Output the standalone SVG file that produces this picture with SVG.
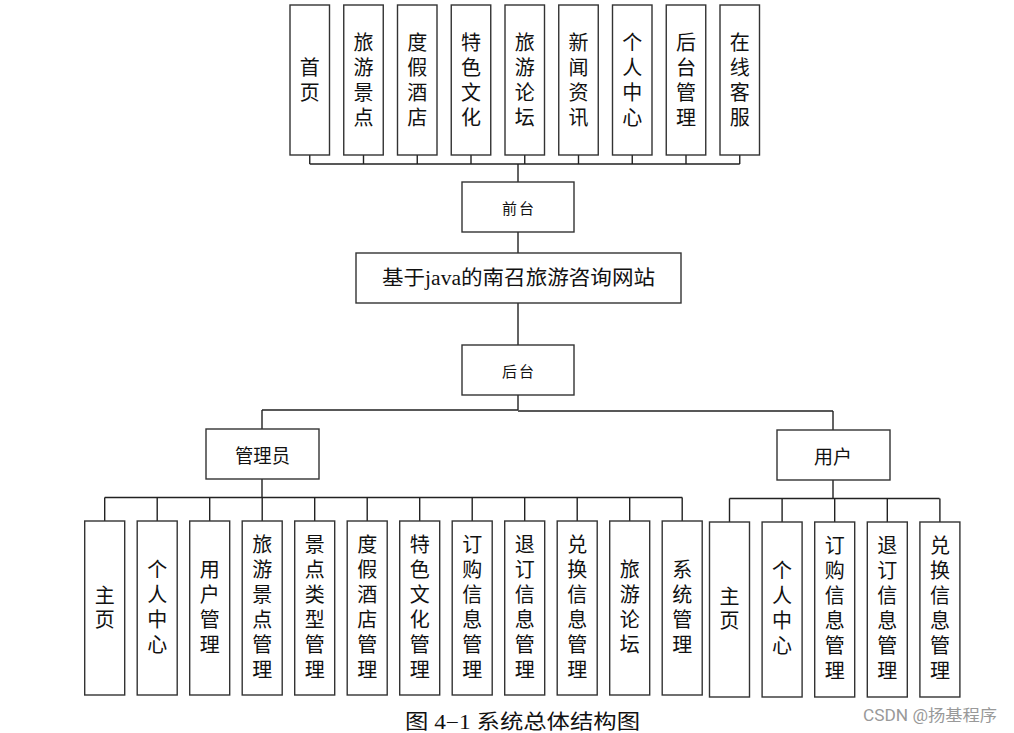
<svg xmlns="http://www.w3.org/2000/svg" width="1014" height="733" viewBox="0 0 1014 733">
<style>
.box{fill:#fff;stroke:#333;stroke-width:1.4}
.ln{fill:none;stroke:#222;stroke-width:1.4}
.t{font-family:"Liberation Serif","Noto Sans CJK SC",serif;font-size:20px;fill:#111;text-anchor:middle;dominant-baseline:central}
.s{font-family:"Noto Sans CJK SC",sans-serif;font-size:15px;fill:#111;text-anchor:middle;dominant-baseline:central;letter-spacing:2px}
.m{font-family:"Noto Sans CJK SC",sans-serif;font-size:19px;fill:#111;text-anchor:middle;dominant-baseline:central}
</style>
<rect width="1014" height="733" fill="#fff"/>
<g id="connectors">
<path class="ln" d="M309.75 154.5V164M363.5 154.5V164M417.25 154.5V164M471 154.5V164M524.75 154.5V164M578.5 154.5V164M632.25 154.5V164M686 154.5V164M739.75 154.5V164M309.75 164H739.75M518 164V182"/>
<path class="ln" d="M518 232V253M518 303V345M518 395V410M262 410H518M518 411H833M262 410V429M833 411V430"/>
<path class="ln" d="M262 479V497.5M104.7 497.5H682.3M104.7 497.5V521M157.2 497.5V521M209.7 497.5V521M262.2 497.5V521M314.7 497.5V521M367.2 497.5V521M419.7 497.5V521M472.2 497.5V521M524.7 497.5V521M577.2 497.5V521M629.7 497.5V521M682.2 497.5V521"/>
<path class="ln" d="M833 480V498.5M729.5 498.5H939.5M729.5 498.5V522M782.1 498.5V522M834.7 498.5V522M887.3 498.5V522M939.9 498.5V522"/>
</g>
<g id="top-1"><rect class="box" x="290" y="5" width="39.5" height="150"/><text class="t"><tspan x="309.75" y="67.5">首</tspan><tspan x="309.75" y="92.5">页</tspan></text></g>
<g id="top-2"><rect class="box" x="343.75" y="5" width="39.5" height="150"/><text class="t"><tspan x="363.5" y="42.5">旅</tspan><tspan x="363.5" y="67.5">游</tspan><tspan x="363.5" y="92.5">景</tspan><tspan x="363.5" y="117.5">点</tspan></text></g>
<g id="top-3"><rect class="box" x="397.5" y="5" width="39.5" height="150"/><text class="t"><tspan x="417.25" y="42.5">度</tspan><tspan x="417.25" y="67.5">假</tspan><tspan x="417.25" y="92.5">酒</tspan><tspan x="417.25" y="117.5">店</tspan></text></g>
<g id="top-4"><rect class="box" x="451.25" y="5" width="39.5" height="150"/><text class="t"><tspan x="471" y="42.5">特</tspan><tspan x="471" y="67.5">色</tspan><tspan x="471" y="92.5">文</tspan><tspan x="471" y="117.5">化</tspan></text></g>
<g id="top-5"><rect class="box" x="505" y="5" width="39.5" height="150"/><text class="t"><tspan x="524.75" y="42.5">旅</tspan><tspan x="524.75" y="67.5">游</tspan><tspan x="524.75" y="92.5">论</tspan><tspan x="524.75" y="117.5">坛</tspan></text></g>
<g id="top-6"><rect class="box" x="558.75" y="5" width="39.5" height="150"/><text class="t"><tspan x="578.5" y="42.5">新</tspan><tspan x="578.5" y="67.5">闻</tspan><tspan x="578.5" y="92.5">资</tspan><tspan x="578.5" y="117.5">讯</tspan></text></g>
<g id="top-7"><rect class="box" x="612.5" y="5" width="39.5" height="150"/><text class="t"><tspan x="632.25" y="42.5">个</tspan><tspan x="632.25" y="67.5">人</tspan><tspan x="632.25" y="92.5">中</tspan><tspan x="632.25" y="117.5">心</tspan></text></g>
<g id="top-8"><rect class="box" x="666.25" y="5" width="39.5" height="150"/><text class="t"><tspan x="686" y="42.5">后</tspan><tspan x="686" y="67.5">台</tspan><tspan x="686" y="92.5">管</tspan><tspan x="686" y="117.5">理</tspan></text></g>
<g id="top-9"><rect class="box" x="720" y="5" width="39.5" height="150"/><text class="t"><tspan x="739.75" y="42.5">在</tspan><tspan x="739.75" y="67.5">线</tspan><tspan x="739.75" y="92.5">客</tspan><tspan x="739.75" y="117.5">服</tspan></text></g>
<g id="frontend"><rect class="box" x="462" y="182" width="112" height="50"/><text class="s" x="519" y="207">前台</text></g>
<g id="system"><rect class="box" x="356" y="253" width="325" height="50"/><text class="t" x="518.5" y="278" textLength="273" lengthAdjust="spacingAndGlyphs">基于java的南召旅游咨询网站</text></g>
<g id="backend"><rect class="box" x="462" y="345" width="112" height="50"/><text class="s" x="519" y="370">后台</text></g>
<g id="admin"><rect class="box" x="206" y="429" width="113" height="50"/><text class="m" x="262.5" y="454" textLength="55" lengthAdjust="spacingAndGlyphs">管理员</text></g>
<g id="user"><rect class="box" x="777" y="430" width="113" height="50"/><text class="m" x="833" y="455">用户</text></g>
<g id="a1"><rect class="box" x="84.7" y="521" width="40" height="174"/><text class="t"><tspan x="104.7" y="596">主</tspan><tspan x="104.7" y="620">页</tspan></text></g>
<g id="a2"><rect class="box" x="137.2" y="521" width="40" height="174"/><text class="t"><tspan x="157.2" y="570">个</tspan><tspan x="157.2" y="595">人</tspan><tspan x="157.2" y="620">中</tspan><tspan x="157.2" y="645">心</tspan></text></g>
<g id="a3"><rect class="box" x="189.7" y="521" width="40" height="174"/><text class="t"><tspan x="209.7" y="570">用</tspan><tspan x="209.7" y="595">户</tspan><tspan x="209.7" y="620">管</tspan><tspan x="209.7" y="645">理</tspan></text></g>
<g id="a4"><rect class="box" x="242.2" y="521" width="40" height="174"/><text class="t"><tspan x="262.2" y="545">旅</tspan><tspan x="262.2" y="570">游</tspan><tspan x="262.2" y="595">景</tspan><tspan x="262.2" y="620">点</tspan><tspan x="262.2" y="645">管</tspan><tspan x="262.2" y="670">理</tspan></text></g>
<g id="a5"><rect class="box" x="294.7" y="521" width="40" height="174"/><text class="t"><tspan x="314.7" y="545">景</tspan><tspan x="314.7" y="570">点</tspan><tspan x="314.7" y="595">类</tspan><tspan x="314.7" y="620">型</tspan><tspan x="314.7" y="645">管</tspan><tspan x="314.7" y="670">理</tspan></text></g>
<g id="a6"><rect class="box" x="347.2" y="521" width="40" height="174"/><text class="t"><tspan x="367.2" y="545">度</tspan><tspan x="367.2" y="570">假</tspan><tspan x="367.2" y="595">酒</tspan><tspan x="367.2" y="620">店</tspan><tspan x="367.2" y="645">管</tspan><tspan x="367.2" y="670">理</tspan></text></g>
<g id="a7"><rect class="box" x="399.7" y="521" width="40" height="174"/><text class="t"><tspan x="419.7" y="545">特</tspan><tspan x="419.7" y="570">色</tspan><tspan x="419.7" y="595">文</tspan><tspan x="419.7" y="620">化</tspan><tspan x="419.7" y="645">管</tspan><tspan x="419.7" y="670">理</tspan></text></g>
<g id="a8"><rect class="box" x="452.2" y="521" width="40" height="174"/><text class="t"><tspan x="472.2" y="545">订</tspan><tspan x="472.2" y="570">购</tspan><tspan x="472.2" y="595">信</tspan><tspan x="472.2" y="620">息</tspan><tspan x="472.2" y="645">管</tspan><tspan x="472.2" y="670">理</tspan></text></g>
<g id="a9"><rect class="box" x="504.7" y="521" width="40" height="174"/><text class="t"><tspan x="524.7" y="545">退</tspan><tspan x="524.7" y="570">订</tspan><tspan x="524.7" y="595">信</tspan><tspan x="524.7" y="620">息</tspan><tspan x="524.7" y="645">管</tspan><tspan x="524.7" y="670">理</tspan></text></g>
<g id="a10"><rect class="box" x="557.2" y="521" width="40" height="174"/><text class="t"><tspan x="577.2" y="545">兑</tspan><tspan x="577.2" y="570">换</tspan><tspan x="577.2" y="595">信</tspan><tspan x="577.2" y="620">息</tspan><tspan x="577.2" y="645">管</tspan><tspan x="577.2" y="670">理</tspan></text></g>
<g id="a11"><rect class="box" x="609.7" y="521" width="40" height="174"/><text class="t"><tspan x="629.7" y="570">旅</tspan><tspan x="629.7" y="595">游</tspan><tspan x="629.7" y="620">论</tspan><tspan x="629.7" y="645">坛</tspan></text></g>
<g id="a12"><rect class="box" x="662.2" y="521" width="40" height="174"/><text class="t"><tspan x="682.2" y="570">系</tspan><tspan x="682.2" y="595">统</tspan><tspan x="682.2" y="620">管</tspan><tspan x="682.2" y="645">理</tspan></text></g>
<g id="u1"><rect class="box" x="709.5" y="522" width="40" height="175"/><text class="t"><tspan x="729.5" y="597">主</tspan><tspan x="729.5" y="621">页</tspan></text></g>
<g id="u2"><rect class="box" x="762.1" y="522" width="40" height="175"/><text class="t"><tspan x="782.1" y="571">个</tspan><tspan x="782.1" y="596">人</tspan><tspan x="782.1" y="621">中</tspan><tspan x="782.1" y="646">心</tspan></text></g>
<g id="u3"><rect class="box" x="814.7" y="522" width="40" height="175"/><text class="t"><tspan x="834.7" y="546">订</tspan><tspan x="834.7" y="571">购</tspan><tspan x="834.7" y="596">信</tspan><tspan x="834.7" y="621">息</tspan><tspan x="834.7" y="646">管</tspan><tspan x="834.7" y="671">理</tspan></text></g>
<g id="u4"><rect class="box" x="867.3" y="522" width="40" height="175"/><text class="t"><tspan x="887.3" y="546">退</tspan><tspan x="887.3" y="571">订</tspan><tspan x="887.3" y="596">信</tspan><tspan x="887.3" y="621">息</tspan><tspan x="887.3" y="646">管</tspan><tspan x="887.3" y="671">理</tspan></text></g>
<g id="u5"><rect class="box" x="919.9" y="522" width="40" height="175"/><text class="t"><tspan x="939.9" y="546">兑</tspan><tspan x="939.9" y="571">换</tspan><tspan x="939.9" y="596">信</tspan><tspan x="939.9" y="621">息</tspan><tspan x="939.9" y="646">管</tspan><tspan x="939.9" y="671">理</tspan></text></g>
<text x="522.5" y="729" font-family="Liberation Serif,Noto Sans CJK SC,serif" font-size="20" fill="#111" text-anchor="middle" textLength="235" lengthAdjust="spacingAndGlyphs">图 4−1  系统总体结构图</text>
<text x="930" y="721" font-family="Roboto,Noto Sans CJK SC,sans-serif" font-size="16" fill="#999" text-anchor="middle" textLength="134" lengthAdjust="spacingAndGlyphs">CSDN @扬基程序</text>
</svg>
